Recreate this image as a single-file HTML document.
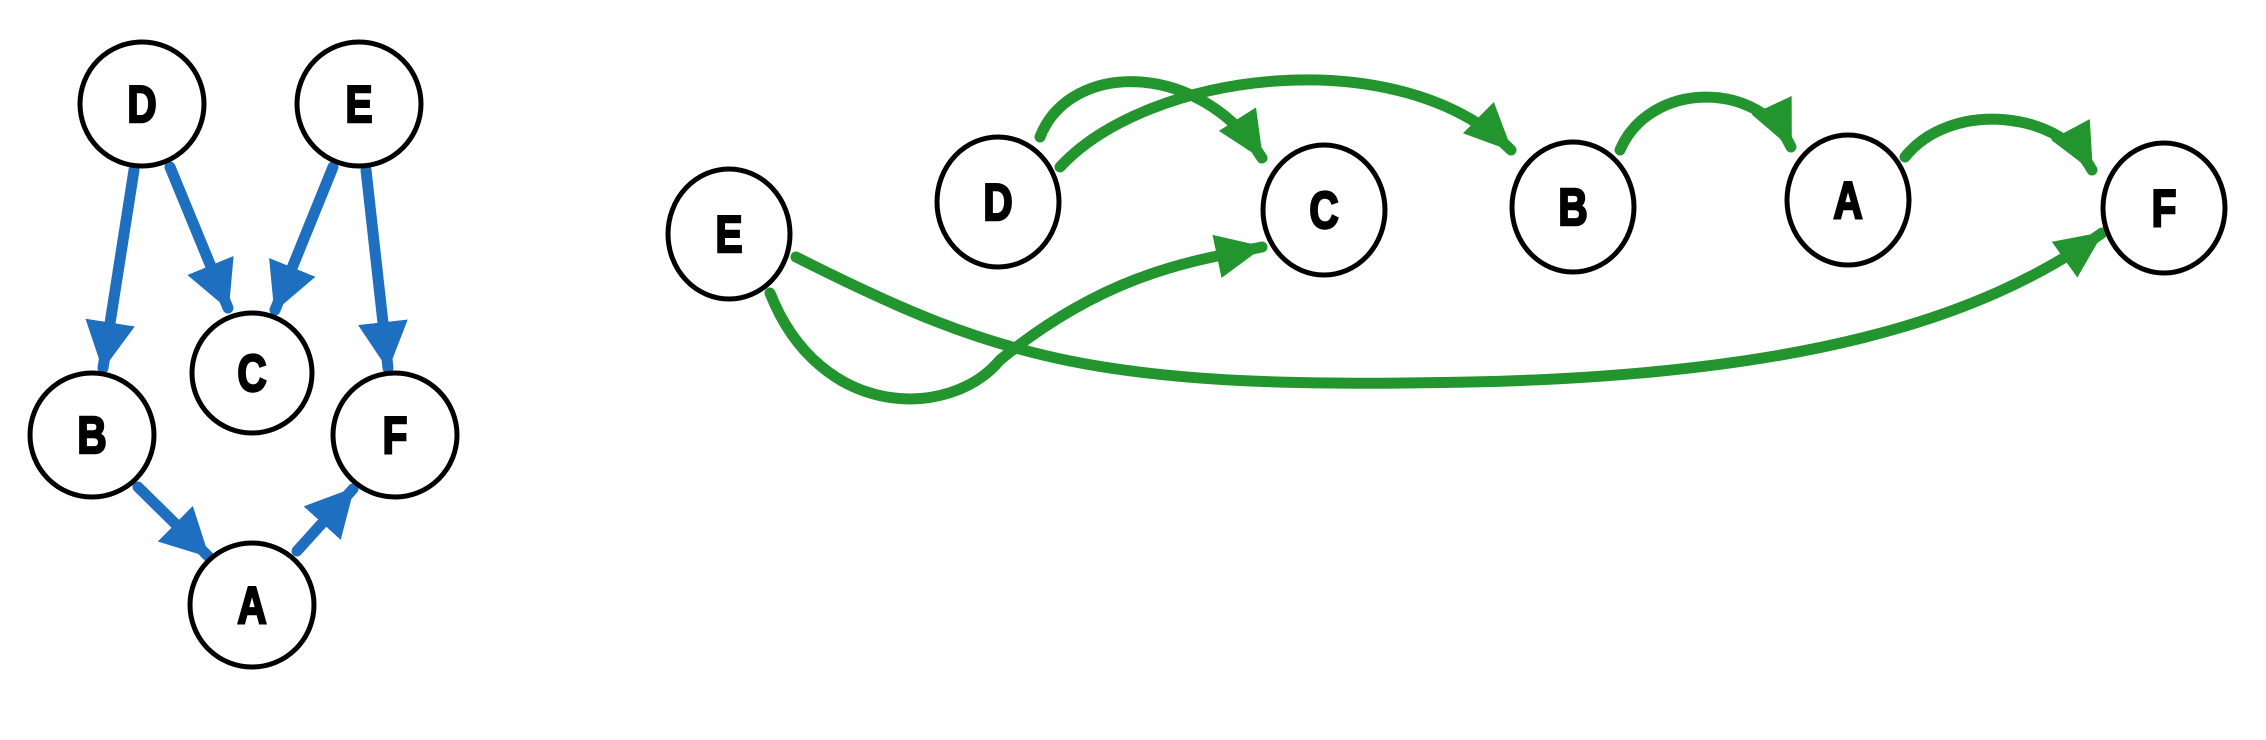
<!DOCTYPE html>
<html><head><meta charset="utf-8"><style>
html,body{margin:0;padding:0;background:#fff;}
svg{display:block;}
text{font-family:"Liberation Sans",sans-serif;font-weight:bold;font-size:52px;stroke:#000;stroke-width:2.5px;}
</style></head><body>
<svg width="2266" height="740" viewBox="0 0 2266 740" xmlns="http://www.w3.org/2000/svg">
<defs>
<marker id="bl" markerUnits="userSpaceOnUse" markerWidth="60" markerHeight="60" refX="46" refY="25" orient="auto">
<path d="M0,0 L48,25 L0,50 Z" fill="#1f6fc0"/></marker>
<marker id="gr" markerUnits="userSpaceOnUse" markerWidth="60" markerHeight="60" refX="46" refY="22" orient="auto">
<path d="M0,0 L48,22 L0,44 Z" fill="#23952f"/></marker>
</defs>
<g stroke="#1f6fc0" stroke-width="11" fill="none" marker-end="url(#bl)" stroke-linecap="round">
<line x1="134" y1="170" x2="103" y2="368"/>
<line x1="170" y1="167" x2="228" y2="308"/>
<line x1="333" y1="167" x2="275" y2="310"/>
<line x1="366" y1="170" x2="388" y2="368"/>
<line x1="138" y1="487" x2="208" y2="556"/>
<line x1="297" y1="551" x2="353" y2="489"/>
</g>
<g stroke="#23952f" stroke-width="11" fill="none" marker-end="url(#gr)" stroke-linecap="round">
<path d="M1040,137 C1070,60 1200,60 1262,158"/>
<path d="M1060,167 C1150,70 1400,40 1511,150"/>
<path d="M1620,150 C1650,80 1760,80 1791,147"/>
<path d="M1905,157 C1950,100 2060,110 2092,170"/>
<path d="M770,293 C820,420 950,420 1000,360 C1110,270 1200,260 1262,247"/>
<path d="M796,257 C1000,360 1100,390 1470,382 C1800,375 1980,320 2102,233"/>
</g>
<g fill="#fff" stroke="#000" stroke-width="5">
<circle cx="142" cy="104" r="62"/><circle cx="359" cy="104" r="62"/>
<circle cx="252" cy="373" r="60"/><circle cx="92" cy="435" r="62"/>
<circle cx="395" cy="435" r="62"/><circle cx="252" cy="605" r="62"/>
<ellipse cx="729" cy="234" rx="61" ry="65"/><ellipse cx="998" cy="202" rx="61" ry="65"/>
<ellipse cx="1324" cy="210" rx="61" ry="65"/><ellipse cx="1573" cy="207" rx="61" ry="65"/>
<ellipse cx="1848" cy="200" rx="61" ry="65"/><ellipse cx="2164" cy="208" rx="61" ry="65"/>
</g>
<g text-anchor="middle" fill="#000">
<text transform="translate(142,122) scale(0.78,1)">D</text>
<text transform="translate(359,122) scale(0.78,1)">E</text>
<text transform="translate(252,391) scale(0.78,1)">C</text>
<text transform="translate(92,453) scale(0.78,1)">B</text>
<text transform="translate(395,453) scale(0.78,1)">F</text>
<text transform="translate(252,623) scale(0.78,1)">A</text>
<text transform="translate(729,252) scale(0.78,1)">E</text>
<text transform="translate(998,220) scale(0.78,1)">D</text>
<text transform="translate(1324,228) scale(0.78,1)">C</text>
<text transform="translate(1573,225) scale(0.78,1)">B</text>
<text transform="translate(1848,218) scale(0.78,1)">A</text>
<text transform="translate(2164,226) scale(0.78,1)">F</text>
</g>
</svg>
</body></html>
